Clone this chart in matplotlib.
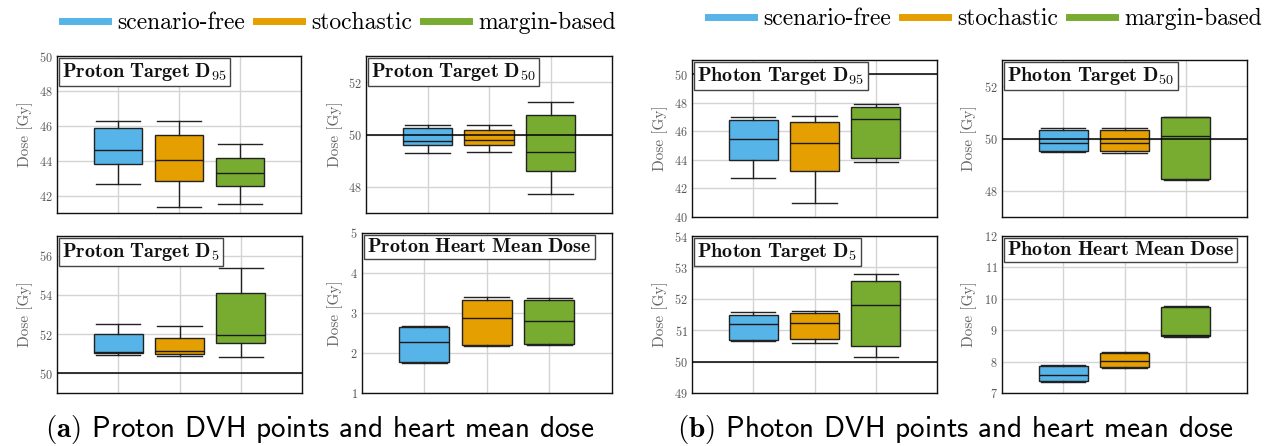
import matplotlib
matplotlib.use("Agg")
import matplotlib.pyplot as plt
from matplotlib.lines import Line2D
from matplotlib.offsetbox import AnchoredText

plt.rcParams['font.family'] = 'cmr10'
plt.rcParams['mathtext.fontset'] = 'cm'
plt.rcParams['axes.formatter.use_mathtext'] = True

W, H = 1271, 446

methods = ["scenario-free", "stochastic", "margin-based"]
colors = ["#56B4E9", "#E69F00", "#77AC30"]

titles_tex = [r"$\mathbf{Proton\ Target\ D}_{\mathbf{95}}$", r"$\mathbf{Proton\ Target\ D}_{\mathbf{50}}$",
              r"$\mathbf{Proton\ Target\ D}_{\mathbf{5}}$", r"$\mathbf{Proton\ Heart\ Mean\ Dose}$",
              r"$\mathbf{Photon\ Target\ D}_{\mathbf{95}}$", r"$\mathbf{Photon\ Target\ D}_{\mathbf{50}}$",
              r"$\mathbf{Photon\ Target\ D}_{\mathbf{5}}$", r"$\mathbf{Photon\ Heart\ Mean\ Dose}$"]

# box statistics per panel: [whislo, q1, med, q3, whishi] for scenario-free, stochastic, margin-based
proton_d95 = [[42.65, 43.79, 44.61, 45.87, 46.29], [41.35, 42.86, 44.02, 45.45, 46.25], [41.49, 42.55, 43.30, 44.17, 44.95]]
proton_d50 = [[49.30, 49.58, 49.75, 50.23, 50.38], [49.34, 49.61, 49.79, 50.16, 50.38], [47.73, 48.62, 49.34, 50.76, 51.24]]
proton_d5 = [[50.93, 51.02, 51.08, 52.01, 52.54], [50.88, 50.98, 51.15, 51.81, 52.40], [50.81, 51.57, 51.96, 54.11, 55.36]]
proton_heart = [[1.75, 1.78, 2.28, 2.64, 2.67], [2.18, 2.20, 2.87, 3.33, 3.40], [2.19, 2.22, 2.80, 3.32, 3.38]]
photon_d95 = [[42.74, 44.02, 45.49, 46.79, 47.00], [40.98, 43.21, 45.19, 46.67, 47.07], [43.86, 44.14, 46.86, 47.72, 47.91]]
photon_d50 = [[49.49, 49.53, 49.84, 50.34, 50.41], [49.46, 49.53, 49.82, 50.33, 50.41], [48.42, 48.47, 50.11, 50.81, 50.84]]
photon_d5 = [[50.65, 50.70, 51.21, 51.49, 51.57], [50.60, 50.71, 51.22, 51.55, 51.61], [50.16, 50.50, 51.79, 52.58, 52.78]]
photon_heart = [[7.36, 7.39, 7.56, 7.86, 7.88], [7.81, 7.84, 8.01, 8.27, 8.30], [8.79, 8.81, 8.85, 9.75, 9.77]]

data = [proton_d95, proton_d50, proton_d5, proton_heart, photon_d95, photon_d50, photon_d5, photon_heart]
ylims = [(41, 50), (47, 53), (49, 57), (1, 5), (40, 51), (47, 53), (49, 54), (7, 12)]
yticks = [[42, 44, 46, 48, 50], [48, 50, 52], [50, 52, 54, 56], [1, 2, 3, 4, 5],
          [40, 42, 44, 46, 48, 50], [48, 50, 52], [49, 50, 51, 52, 53, 54], [7, 8, 9, 10, 11, 12]]
ref_line = [None, 50, 50, None, 50, 50, 50, None]

# axes boxes in pixels: left, top, right, bottom
boxes_px = [(57, 56, 301, 213), (366, 56, 612, 213), (57, 236, 302, 393), (362, 233, 612, 393),
            (692, 60, 937, 217), (1002, 60, 1247, 217), (692, 236, 937, 393), (1002, 236, 1247, 393)]
ylabel_x = [-0.098, -0.094, -0.098, -0.076, -0.098, -0.102, -0.098, -0.102]

fig = plt.figure(figsize=(W / 100, H / 100), dpi=100)

for i in range(8):
    l, t, r, b = boxes_px[i]
    ax = fig.add_axes([l / W, 1 - b / H, (r - l) / W, (b - t) / H])
    stats = []
    for k, s in enumerate(data[i]):
        stats.append(dict(whislo=s[0], q1=s[1], med=s[2], q3=s[3], whishi=s[4], fliers=[], label=methods[k]))
    bp = ax.bxp(stats, positions=[1, 2, 3], widths=0.8, capwidths=0.72, patch_artist=True, showfliers=False,
                boxprops=dict(edgecolor='#222222', linewidth=1.0),
                medianprops=dict(color='#1a1a1a', linewidth=1.0),
                whiskerprops=dict(color='#222222', linewidth=1.0),
                capprops=dict(color='#222222', linewidth=1.0))
    for patch, c in zip(bp['boxes'], colors):
        patch.set_facecolor(c)
    if ref_line[i] is not None:
        ax.axhline(ref_line[i], color='black', linewidth=1.1, zorder=3)
    ax.set_xlim(0, 4)
    ax.set_ylim(*ylims[i])
    ax.set_xticks([1, 2, 3])
    ax.set_xticklabels([])
    ax.set_yticks(yticks[i])
    ax.grid(True, color='#d4d4d4', linewidth=1.0)
    ax.set_axisbelow(True)
    ax.tick_params(axis='both', length=0, labelsize=8.8, labelcolor='#555555', pad=3)
    for sp in ax.spines.values():
        sp.set_linewidth(1.0)
        sp.set_color('#111111')
    ax.set_ylabel("Dose [Gy]", fontsize=11, color='#666666')
    ax.yaxis.set_label_coords(ylabel_x[i], 0.5)
    at = AnchoredText(titles_tex[i], loc='upper left', pad=0.15, borderpad=0.12, frameon=True,
                      prop=dict(size=14.5, color='#111111'))
    at.patch.set_boxstyle("square,pad=0")
    at.patch.set_edgecolor('#444444')
    at.patch.set_linewidth(1.0)
    ax.add_artist(at)

handles = [Line2D([0], [0], color=c, linewidth=5) for c in colors]
fig.legend(handles, methods, loc='center', bbox_to_anchor=(339 / W, 1 - 23 / H), ncol=3, frameon=False,
           fontsize=17, handlelength=1.96, handletextpad=0.4, columnspacing=0.45)
fig.legend(handles, methods, loc='center', bbox_to_anchor=(985 / W, 1 - 19 / H), ncol=3, frameon=False,
           fontsize=17, handlelength=1.96, handletextpad=0.4, columnspacing=0.45)

fig.text(320 / W, 1 - 437.5 / H, r"$\mathbf{(a)}$ Proton DVH points and heart mean dose",
         family='cmss10', fontsize=21, ha='center', va='baseline')
fig.text(955 / W, 1 - 437.5 / H, r"$\mathbf{(b)}$ Photon DVH points and heart mean dose",
         family='cmss10', fontsize=21, ha='center', va='baseline')

fig.savefig("out.png", dpi=100)
